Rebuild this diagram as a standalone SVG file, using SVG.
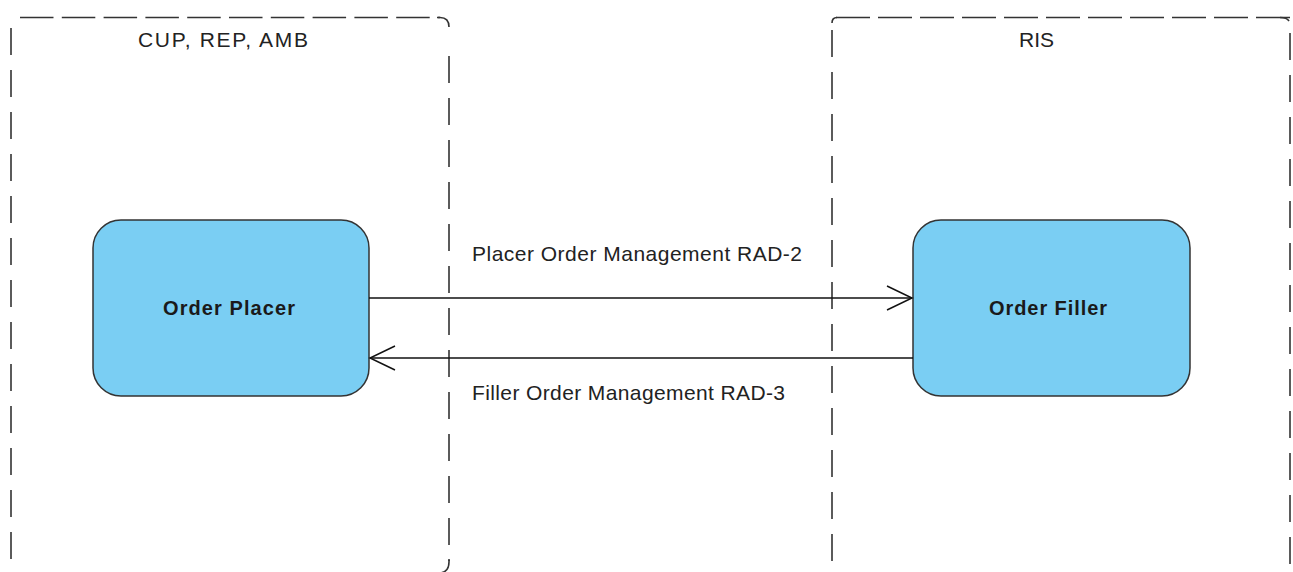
<svg xmlns="http://www.w3.org/2000/svg" width="1293" height="572" viewBox="0 0 1293 572">
<style>
.bd{fill:none;stroke:#333;stroke-width:1.6}
.h{stroke-dasharray:33.5 8.3}
.v{stroke-dasharray:27 15}
.node{fill:#7acef3;stroke:#333;stroke-width:1.5}
.lbl{font-family:"Liberation Sans",Arial,sans-serif;font-size:21px;fill:#222}
.nl{font-family:"Liberation Sans",Arial,sans-serif;font-size:20px;font-weight:bold;fill:#1a1a1a;text-anchor:middle}
.conn{fill:none;stroke:#111;stroke-width:1.5}
</style>
<defs>
<marker id="open" markerUnits="userSpaceOnUse" viewBox="-1 -1 28 27" markerWidth="28" markerHeight="27" refX="25" refY="12" orient="auto">
<path d="M0,0 L25,12 L0,24" fill="none" stroke="#111" stroke-width="1.5"/>
</marker>
</defs>
<rect width="1293" height="572" fill="#fff"/>
<g id="container-cup">
<line class="bd h" x1="20" y1="17.5" x2="440" y2="17.5"/>
<path class="bd" d="M437,17.5 L440,17.5 Q449,17.5 449,27"/>
<line class="bd v" x1="449" y1="56" x2="449" y2="561"/>
<path class="bd" d="M449,559 L449,562 Q449,572 440,573"/>
<line class="bd v" x1="11" y1="28" x2="11" y2="572"/>
<text class="lbl" x="223" y="47" text-anchor="middle" textLength="170">CUP, REP, AMB</text>
</g>
<g id="container-ris">
<path class="bd" d="M832,23 Q832,17.5 837,17.5"/>
<line class="bd" x1="836" y1="17.5" x2="1290" y2="17.5" style="stroke-dasharray:34 8"/>
<path class="bd" d="M1280,17.5 Q1287,17.5 1289,21"/>
<line class="bd v" x1="832" y1="30" x2="832" y2="572"/>
<line class="bd v" x1="1290" y1="33" x2="1290" y2="572"/>
<text class="lbl" x="1036.5" y="47" text-anchor="middle">RIS</text>
</g>
<g id="order-placer">
<rect class="node" x="93" y="220" width="276" height="176" rx="28" ry="28"/>
<text class="nl" x="229" y="315" textLength="132">Order Placer</text>
</g>
<g id="order-filler">
<rect class="node" x="913" y="220" width="277" height="176" rx="28" ry="28"/>
<text class="nl" x="1048" y="315" textLength="118">Order Filler</text>
</g>
<g id="connectors">
<line class="conn" x1="369" y1="298" x2="912" y2="298" marker-end="url(#open)"/>
<line class="conn" x1="913" y1="358" x2="370" y2="358" marker-end="url(#open)"/>
<text class="lbl" x="472" y="261" textLength="330">Placer Order Management RAD-2</text>
<text class="lbl" x="472" y="400" textLength="313">Filler Order Management RAD-3</text>
</g>
</svg>
